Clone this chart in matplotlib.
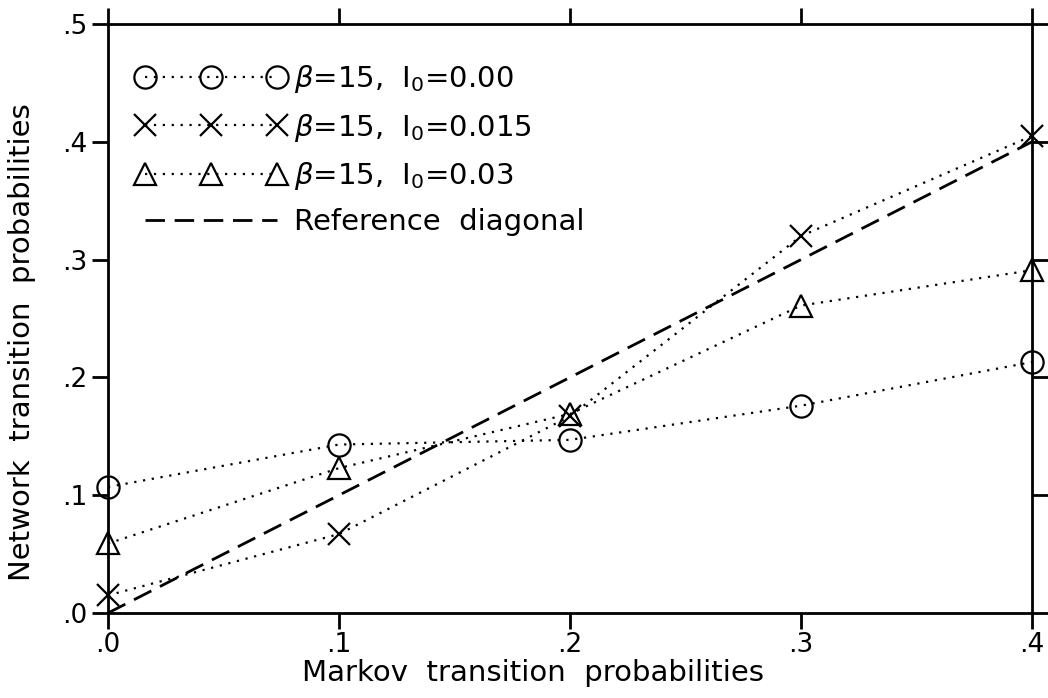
import numpy as np
import matplotlib.pyplot as plt
from matplotlib.ticker import FuncFormatter

# values
markov = [0.0, 0.1, 0.2, 0.3, 0.4]
net_i000 = [0.107, 0.143, 0.147, 0.176, 0.213]
net_i015 = [0.015, 0.067, 0.167, 0.320, 0.405]
net_i030 = [0.059, 0.123, 0.169, 0.261, 0.291]
diag_x = [0.0, 0.4]
diag_y = [0.0, 0.4]
labels = [r'$\beta$=15,  I$_0$=0.00', r'$\beta$=15,  I$_0$=0.015',
          r'$\beta$=15,  I$_0$=0.03', 'Reference  diagonal']
xticks = [0.0, 0.1, 0.2, 0.3, 0.4]
yticks = [0.0, 0.1, 0.2, 0.3, 0.4, 0.5]
right_ticks = [0.1, 0.2, 0.3, 0.4]

plt.rcParams['font.family'] = 'DejaVu Sans'
plt.rcParams['mathtext.fontset'] = 'dejavusans'

fig = plt.figure(figsize=(10.48, 6.98), dpi=100)
xmax = 0.45
ax = fig.add_axes([108/1048, 85/698, xmax*2310/1048, 589/698])

dot = (0, (1, 3))
mk = dict(markersize=16, markerfacecolor='none', markeredgecolor='black',
          markeredgewidth=1.6, clip_on=False)
ax.plot(markov, net_i000, color='black', lw=1.6, linestyle=dot, marker='o', label=labels[0], **mk)
ax.plot(markov, net_i015, color='black', lw=1.6, linestyle=dot, marker='x', label=labels[1], **mk)
ax.plot(markov, net_i030, color='black', lw=1.6, linestyle=dot, marker='^', label=labels[2], **mk)
ax.plot(diag_x, diag_y, color='black', lw=2, linestyle=(0, (7, 3.5)), label=labels[3])

ax.set_xlim(0, xmax)
ax.set_ylim(0, 0.5)
ax.spines['right'].set_visible(False)
for s in ['left', 'top', 'bottom']:
    ax.spines[s].set_linewidth(2)

fmt = FuncFormatter(lambda v, p: ('%.1f' % v).lstrip('0'))
ax.set_xticks(xticks)
ax.set_yticks(yticks)
ax.xaxis.set_major_formatter(fmt)
ax.yaxis.set_major_formatter(fmt)
ax.tick_params(direction='out', length=11.5, width=2, labelsize=19, pad=3,
               top=True, labeltop=False)
ax.tick_params(axis='x', pad=2)

sec = ax.secondary_yaxis(0.4 / xmax)
sec.set_yticks(right_ticks)
sec.set_yticklabels([])
sec.spines['right'].set_linewidth(2)
sec.tick_params(direction='out', length=11.5, width=2)

ax.set_xlabel('Markov  transition  probabilities', fontsize=21, va='top')
ax.xaxis.set_label_coords((305 + 457/2 - 108)/1039.5, -(659-613)/589)
ax.set_ylabel('Network  transition  probabilities', fontsize=21, va='top')
ax.yaxis.set_label_coords(-(108-8)/1039.5, (613-342)/589)

ax.legend(loc='upper left', bbox_to_anchor=(0.016, 0.953), frameon=False, numpoints=3,
          fontsize=21, handlelength=5.12, handletextpad=0.3, labelspacing=0.56,
          borderaxespad=0)

fig.savefig('out.png', dpi=100)
